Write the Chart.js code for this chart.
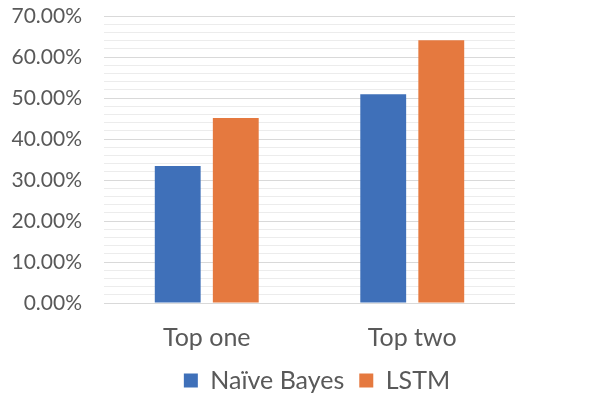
<!DOCTYPE html>
<html>
<head>
<meta charset="utf-8">
<script src="https://cdn.jsdelivr.net/npm/chart.js@4"></script>
<style>
  html, body { margin: 0; padding: 0; background: #fff; }
  #wrap { width: 616px; height: 394px; }
</style>
</head>
<body>
<div id="wrap"><canvas id="chart" width="616" height="394"></canvas></div>
<script>
// values, in percent
const categories = ['Top one', 'Top two'];
const naiveBayes = [33.4, 50.9];
const lstm = [45.1, 64.1];
const seriesNames = ['Naïve Bayes', 'LSTM'];

const blue = '#3F70B9';
const orange = '#E5793F';
const textColor = '#595959';

const ctx = document.getElementById('chart').getContext('2d');
new Chart(ctx, {
    type: 'bar',
    data: {
        labels: categories,
        datasets: [
            { label: seriesNames[0], data: naiveBayes, backgroundColor: blue, yAxisID: 'y' },
            { label: seriesNames[1], data: lstm, backgroundColor: orange, yAxisID: 'y' },
        ]
    },
    options: {
        responsive: false,
        animation: false,
        categoryPercentage: 0.565,
        barPercentage: 0.79,
        layout: { padding: { top: 16, right: -10, left: 8, bottom: -9 } },
        plugins: {
            tooltip: { enabled: false },
            legend: {
                position: 'bottom',
                labels: {
                    color: textColor,
                    font: { family: 'Lato', size: 25 },
                    boxWidth: 14,
                    boxHeight: 14,
                    padding: 15,
                },
            },
        },
        scales: {
            x: {
                // tick marks are not drawn, their length only pushes the labels down
                grid: { display: false, tickLength: 20 },
                border: { display: false },
                ticks: {
                    color: textColor,
                    font: { family: 'Lato', size: 25 },
                    padding: 0,
                },
            },
            y: {
                min: 0,
                max: 70,
                border: { display: false },
                grid: {
                    color: c => (c.tick && c.tick.value % 10 === 0) ? '#d9d9d9' : '#ececec',
                    drawTicks: false,
                },
                ticks: {
                    stepSize: 2,
                    autoSkip: false,
                    color: textColor,
                    font: { family: 'Lato', size: 21 },
                    padding: 22,
                    callback: v => (v % 10 === 0 ? v.toFixed(2) + '%' : ''),
                },
                afterFit: s => {
                    s.width = 96;
                    s.paddingTop = 0;
                    s.paddingBottom = 0;
                },
            },
            // empty axis on the right, only to keep the plot narrower than the legend row
            spacer: {
                type: 'linear',
                position: 'right',
                grid: { display: false },
                border: { display: false },
                ticks: { display: false },
                afterFit: s => { s.width = 111; },
            },
        },
    },
});
</script>
</body>
</html>
